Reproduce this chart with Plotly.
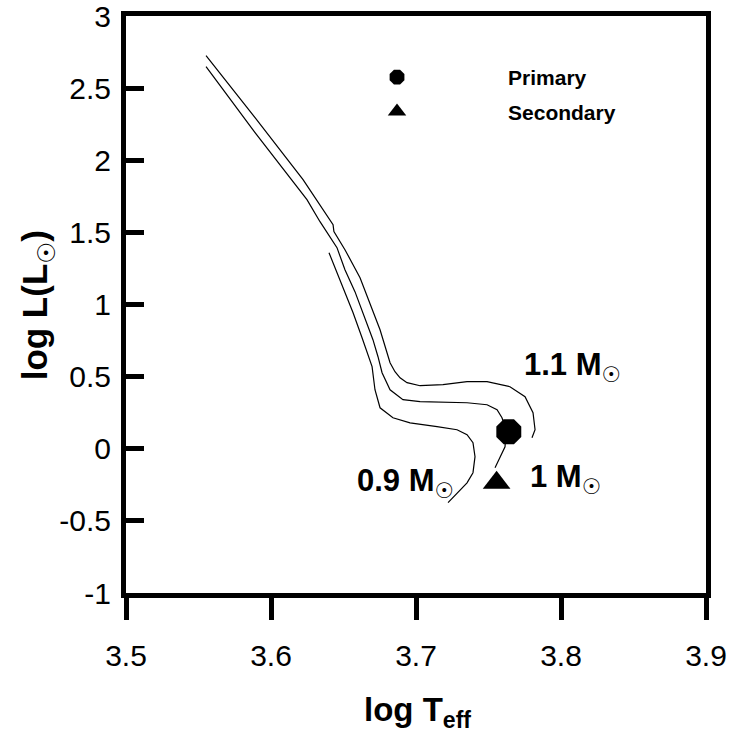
import plotly.graph_objects as go

# ---- data ----
teff_11 = [3.5552, 3.5890, 3.6221, 3.6428, 3.6434, 3.6510, 3.6614, 3.6683, 3.6752, 3.6821,
           3.6855, 3.6890, 3.6938, 3.7028, 3.7186, 3.7352, 3.7490, 3.7648, 3.7752, 3.7807,
           3.7821, 3.7800]
logl_11 = [2.725, 2.295, 1.865, 1.553, 1.505, 1.380, 1.186, 0.999, 0.825, 0.596,
           0.534, 0.492, 0.458, 0.437, 0.444, 0.465, 0.465, 0.430, 0.361, 0.250,
           0.132, 0.076]

teff_10 = [3.5552, 3.5890, 3.6248, 3.6338, 3.6455, 3.6510, 3.6579, 3.6648, 3.6703, 3.6738,
           3.6766, 3.6821, 3.6910, 3.7028, 3.7352, 3.7490, 3.7559, 3.7593, 3.7621, 3.7614,
           3.7579, 3.7545]
logl_10 = [2.649, 2.191, 1.727, 1.574, 1.394, 1.241, 1.089, 0.908, 0.756, 0.638,
           0.527, 0.409, 0.340, 0.326, 0.319, 0.305, 0.270, 0.215, 0.132, 0.014,
           -0.055, -0.132]

teff_09 = [3.6400, 3.6483, 3.6566, 3.6628, 3.6662, 3.6697, 3.6717, 3.6752, 3.6841, 3.6959,
           3.7145, 3.7283, 3.7352, 3.7393, 3.7407, 3.7393, 3.7352, 3.7283, 3.7221]
logl_09 = [1.359, 1.151, 0.943, 0.770, 0.673, 0.569, 0.409, 0.284, 0.215, 0.180,
           0.153, 0.132, 0.097, 0.042, -0.055, -0.166, -0.236, -0.305, -0.374]

primary_teff = [3.764]
primary_logl = [0.118]
secondary_teff = [3.7556]
secondary_logl = [-0.236]

x_ticks = [3.5, 3.6, 3.7, 3.8, 3.9]
x_ticktext = ["3.5", "3.6", "3.7", "3.8", "3.9"]
y_ticks = [-1, -0.5, 0, 0.5, 1, 1.5, 2, 2.5, 3]
y_ticktext = ["-1", "-0.5", "0", "0.5", "1", "1.5", "2", "2.5", "3"]

track_labels = ["1.1 M", "1 M", "0.9 M"]
label_x = [3.7731, 3.7772, 3.6579]
label_y = [0.57, -0.21, -0.235]

FONT = "Liberation Sans, Arial, DejaVu Sans, sans-serif"

fig = go.Figure()
for tx, ly in [(teff_11, logl_11), (teff_10, logl_10), (teff_09, logl_09)]:
    fig.add_trace(go.Scatter(x=tx, y=ly, mode="lines",
                             line=dict(color="black", width=1.2),
                             showlegend=False, hoverinfo="skip"))

fig.add_trace(go.Scatter(x=primary_teff, y=primary_logl, mode="markers",
                         marker=dict(symbol="octagon", size=27, color="black"),
                         name="<b>Primary</b>", legendgroup="p"))
fig.add_trace(go.Scatter(x=secondary_teff, y=secondary_logl, mode="markers",
                         marker=dict(symbol="triangle-up", size=24, color="black"),
                         name="<b>Secondary</b>", legendgroup="s"))

for t, xx, yy in zip(track_labels, label_x, label_y):
    fig.add_annotation(x=xx, y=yy, xref="x", yref="y", xanchor="left", yanchor="middle",
                       text="<b>" + t + "</b><sub>☉</sub>", showarrow=False,
                       font=dict(family=FONT, size=31, color="black"))

# axis titles
fig.add_annotation(x=0.503, y=-0.206, xref="paper", yref="paper",
                   xanchor="center", yanchor="middle", showarrow=False,
                   text="<b>log T<sub>eff</sub></b>",
                   font=dict(family=FONT, size=33, color="black"))
fig.add_annotation(x=-0.153, y=0.499, xref="paper", yref="paper",
                   xanchor="center", yanchor="middle", showarrow=False, textangle=-90,
                   text="<b>log L(L</b><sub>☉</sub><b>)</b>",
                   font=dict(family=FONT, size=35, color="black"))

fig.update_layout(
    width=730, height=736,
    margin=dict(l=126, r=24, t=16, b=143, autoexpand=False),
    paper_bgcolor="white", plot_bgcolor="white",
    font=dict(family=FONT, color="black"),
    showlegend=True,
    legend=dict(x=0.2759, y=0.929, xanchor="left", yanchor="top",
                bgcolor="rgba(0,0,0,0)", borderwidth=0,
                font=dict(family=FONT, size=21, color="black"),
                traceorder="grouped", tracegroupgap=4, itemwidth=212),
    xaxis=dict(range=[3.5, 3.9], tickvals=x_ticks, ticktext=x_ticktext,
               ticks="outside", ticklen=22, tickwidth=5, tickcolor="black",
               showline=True, linewidth=5, linecolor="black", mirror=True,
               showgrid=False, zeroline=False, ticklabelstandoff=10, automargin=False,
               ticklabeloverflow="allow",
               tickfont=dict(family=FONT, size=30, color="black")),
    yaxis=dict(range=[-1, 3], tickvals=y_ticks, ticktext=y_ticktext,
               ticks="inside", ticklen=18, tickwidth=5, tickcolor="black",
               showline=True, linewidth=5, linecolor="black", mirror=True,
               showgrid=False, zeroline=False, ticklabelstandoff=4, automargin=False,
               ticklabeloverflow="allow",
               tickfont=dict(family=FONT, size=30, color="black")),
)

fig.write_html("out.html")
